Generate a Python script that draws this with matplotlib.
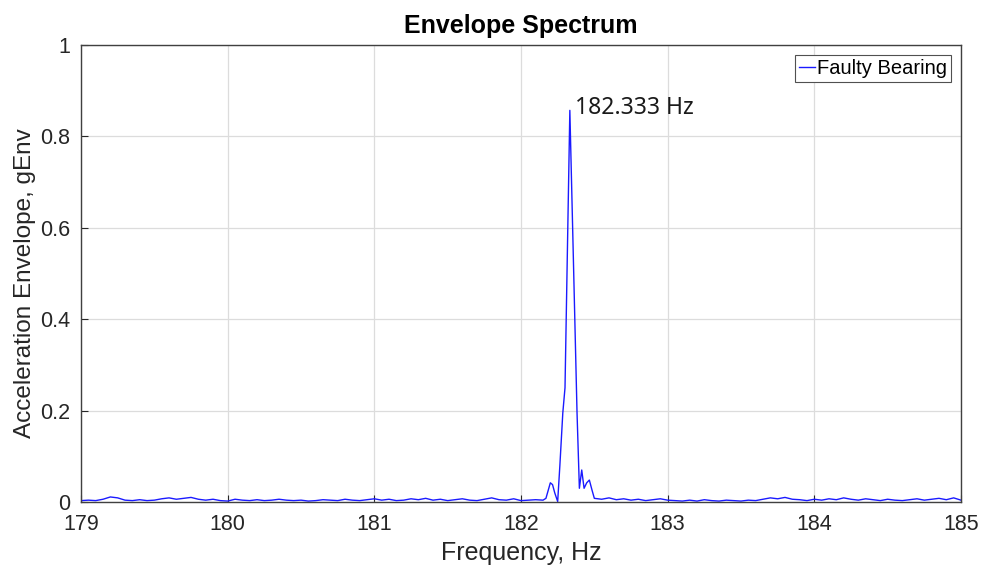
import numpy as np
import matplotlib.pyplot as plt

# envelope spectrum of the faulty bearing (gEnv)
freq_lo = np.linspace(179.0, 182.15, 64)
amp_lo = [0.003, 0.004, 0.003, 0.006, 0.011, 0.009, 0.004, 0.003, 0.005, 0.003,
          0.004, 0.007, 0.009, 0.006, 0.008, 0.010, 0.006, 0.004, 0.006, 0.003,
          0.002, 0.006, 0.004, 0.003, 0.005, 0.003, 0.004, 0.006, 0.004, 0.003,
          0.004, 0.002, 0.003, 0.005, 0.004, 0.003, 0.006, 0.004, 0.003, 0.005,
          0.007, 0.004, 0.006, 0.003, 0.004, 0.007, 0.005, 0.008, 0.004, 0.006,
          0.003, 0.005, 0.007, 0.004, 0.003, 0.006, 0.009, 0.005, 0.004, 0.007,
          0.003, 0.004, 0.005, 0.004]

freq_pk = [182.17, 182.185, 182.20, 182.215, 182.23, 182.25, 182.265, 182.285,
           182.30, 182.333, 182.382, 182.398, 182.414, 182.43, 182.448, 182.466,
           182.485, 182.50]
amp_pk = [0.008, 0.025, 0.042, 0.038, 0.020, 0.001, 0.080, 0.195,
          0.250, 0.857, 0.195, 0.030, 0.070, 0.030, 0.042, 0.048,
          0.025, 0.008]

freq_hi = np.linspace(182.55, 185.0, 50)
amp_hi = [0.006, 0.009, 0.005, 0.007, 0.004, 0.006, 0.003, 0.005, 0.007, 0.004,
          0.003, 0.002, 0.004, 0.002, 0.005, 0.003, 0.002, 0.004, 0.003, 0.002,
          0.004, 0.003, 0.006, 0.009, 0.007, 0.010, 0.006, 0.005, 0.003, 0.006,
          0.004, 0.007, 0.005, 0.009, 0.006, 0.004, 0.007, 0.005, 0.003, 0.006,
          0.004, 0.003, 0.005, 0.007, 0.004, 0.006, 0.008, 0.005, 0.009, 0.004]

freq = np.concatenate([freq_lo, freq_pk, freq_hi])
amp = np.concatenate([amp_lo, amp_pk, amp_hi])

peak_freq = 182.333
peak_amp = 0.857

plt.rcParams['font.family'] = ['Liberation Sans', 'DejaVu Sans']

fig = plt.figure(figsize=(9.81, 5.72), dpi=100)
ax = fig.add_axes([0.0826, 0.1224, 0.8970, 0.7989])

ax.plot(freq, amp, color='#1a1aff', lw=1.0, label='Faulty Bearing')

ax.annotate(f'{peak_freq:.3f} Hz', xy=(peak_freq, peak_amp),
            xytext=(5, 2), textcoords='offset pixels', ha='left', va='center',
            fontsize=16.5, family='Noto Sans', color='#1a1a1a')

ax.set_xlim(179, 185)
ax.set_ylim(0, 1)
ax.set_xticks(range(179, 186))
ax.set_yticks([0, 0.2, 0.4, 0.6, 0.8, 1])
ax.set_yticklabels(['0', '0.2', '0.4', '0.6', '0.8', '1'])
ax.tick_params(direction='in', length=5, width=0.8, labelsize=15.5,
               colors='#262626', top=False, right=False)
ax.tick_params(axis='x', pad=9)
ax.tick_params(axis='y', pad=8)
ax.grid(True, color='#dcdcdc', lw=0.9)
for s in ax.spines.values():
    s.set_color('#404040')
    s.set_linewidth(1.0)

ax.set_title('Envelope Spectrum', fontsize=18, fontweight='bold', pad=9)
ax.set_xlabel('Frequency, Hz', fontsize=18, color='#262626', labelpad=4)
ax.set_ylabel('Acceleration Envelope, gEnv', fontsize=17.5, color='#262626')
ax.yaxis.set_label_coords(-0.051, 0.478)

leg = ax.legend(loc='upper right', fontsize=14.5, handlelength=0.8,
                handletextpad=0.1, borderpad=0.2, fancybox=False,
                framealpha=1, borderaxespad=0.5)
leg.get_frame().set_edgecolor('#505050')
leg.get_frame().set_linewidth(0.8)

fig.savefig('out.png', dpi=100)
